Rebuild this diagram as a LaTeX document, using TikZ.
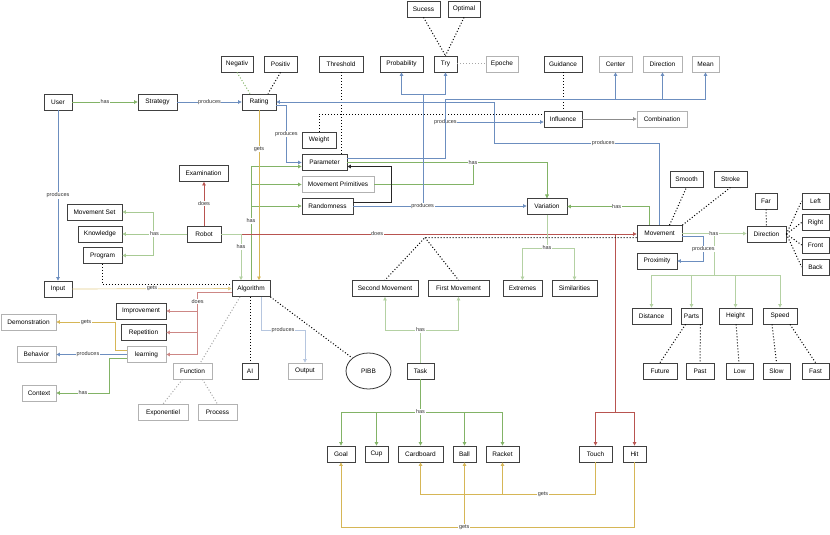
\documentclass[tikz,border=0pt]{standalone}
\usepackage{fontspec}
\setsansfont{Liberation Sans}
\usetikzlibrary{arrows.meta,shapes.geometric}
\definecolor{gcol}{HTML}{82B366}
\definecolor{bcol}{HTML}{6C8EBF}
\definecolor{rcol}{HTML}{B85450}
\definecolor{ycol}{HTML}{D6B656}

\begin{document}
\begin{tikzpicture}[x=1pt, y=-1pt,
    box/.style={draw=black!75, line width=.8pt, fill=white, minimum height=16pt, inner sep=1pt, font=\fontsize{6.5}{7}\sffamily},
    pale/.style={box, draw=black!30},
    lbl/.style={font=\fontsize{5.5}{6}\sffamily, fill=white, text=black!80, inner sep=.6pt},
    ar/.style={line width=.7pt, -{Triangle[length=3.5pt,width=3.5pt]}},
    dots/.style={line width=1pt, dash pattern=on 1pt off 2pt}]
\useasboundingbox (0,0) rectangle (830,535);
% boxes
\foreach \n/\x/\y/\w/\t in {
    sucess/423.5/9/33/Sucess, optimal/464/9/32/Optimal,
    negativ/237/64/32/Negativ, positiv/280.5/64/33/Positiv, threshold/341/64/44/Threshold,
    probability/401.5/64/43/Probability, try/445.5/64/23/Try, guidance/563/64/38/Guidance,
    user/58/102/28/User, strategy/157.5/102/39/Strategy, rating/259/102/34/Rating,
    influence/563/119/38/Influence, weight/319/140/34/Weight, parameter/324.5/162.5/45/Parameter,
    randomness/327.5/206/51/Randomness, examination/203.5/173.5/49/Examination,
    variation/547/206.5/40/Variation, smooth/686.5/179/33/Smooth, stroke/730.5/179/33/Stroke,
    far/766/201/22/Far, dleft/815.5/201/27/Left, dright/815.5/222.5/27/Right,
    dfront/815.5/245/27/Front, dback/815.5/267/27/Back,
    movset/94.5/212/55/Movement Set, knowledge/100/234/44/Knowledge, robot/204/234/34/Robot,
    movement/659.5/233.5/45/Movement, direction/766.5/234/39/Direction,
    program/102.5/255.5/39/Program, proximity/657/261/40/Proximity,
    input/58/289/28/Input, algorithm/251/288.5/38/Algorithm,
    secmov/385/288.5/66/Second Movement, firstmov/458.5/288.5/61/First Movement,
    extremes/522.5/288.5/39/Extremes, similarities/574.5/288.5/45/Similarities,
    improvement/141/311/50/Improvement, repetition/143.5/332.5/45/Repetition,
    distance/651.5/316/39/Distance, parts/691.5/316/21/Parts, height/735.5/316/33/Height, speed/780/316/34/Speed,
    ai/250/371/16/AI, task/420.5/371/27/Task,
    future/660/371/34/Future, past/700/371/28/Past, low/739.5/371/27/Low, slow/776.5/371/27/Slow, fast/815.5/371/27/Fast,
    goal/341/454/28/Goal, cup/376.5/454/23/Cup, cardboard/420.5/454/45/Cardboard, ball/464.5/454/23/Ball,
    racket/502.5/454/33/Racket, touch/595.5/454/33/Touch, hit/634.5/454/23/Hit}
    \node[box, minimum width=\w pt] (\n) at (\x,\y) {\t};
\foreach \n/\x/\y/\w/\t in {
    epoche/502/64/32/Epoche, center/615.5/64/33/Center, dirtop/662.5/64/39/Direction, mean/705.5/64/27/Mean,
    combination/662/119/50/Combination, movprim/338/184.5/72/Movement Primitives,
    demonstration/28.5/322/55/Demonstration, behavior/36.5/354.5/39/Behavior, learning/146.5/354.5/39/learning,
    context/39/393/34/Context, function/192.5/371/39/Function, exponentiel/163/412.5/50/Exponentiel,
    process/217.5/412.5/39/Process, output/305/371/34/Output}
    \node[pale, minimum width=\w pt] (\n) at (\x,\y) {\t};
\node[draw=black!80, line width=.8pt, ellipse, minimum width=45pt, minimum height=36pt, inner sep=0pt, font=\fontsize{6.5}{7}\sffamily] (pibb) at (368.5,371) {PIBB};

% top row
\draw[ar,gcol] (user) -- node[lbl]{has} (strategy);
\draw[ar,bcol] (strategy) -- node[lbl]{produces} (rating);
\draw[ar,bcol] (user) -- node[lbl]{produces} (input);
\draw[dots,gcol] (negativ.south) -- ([xshift=-9pt]rating.north);
\draw[dots] (positiv.south) -- ([xshift=9pt]rating.north);
\foreach \n in {sucess,optimal}
    \draw[dots] (\n.south) -- (try.north);
\draw[dots,black!35] (try) -- (epoche);
\draw[dots] (threshold) -- (threshold |- parameter.north);
\draw[dots] (guidance) -- (influence);
\draw[dots] (weight.north) |- ([yshift=5pt]influence.west);

% rating, parameter, influence
\draw[ar,bcol] ([yshift=-3pt]rating.east) -- ++(10,0) |- node[lbl,pos=.25]{produces} (parameter.west);
\draw[ar,bcol] (movement.north) |- node[lbl,pos=.67]{produces} (494,143) -- (494,102) -- (rating.east);
\draw[ar,bcol] ([yshift=4pt]parameter.east) -- ++(98,0) |- node[lbl]{produces} ([yshift=-3pt]influence.west);
\coordinate (pc) at (445,99);
\draw[bcol,line width=.7pt] ([yshift=4pt]parameter.east) -| (pc);
\foreach \n in {center,dirtop,mean}
    \draw[ar,bcol] (pc) -| (\n.south);
\draw[ar,black!45] (influence) -- (combination);
\coordinate (pv) at (473,162.5);
\draw[ar,gcol] (parameter.east) -- (pv) -| (variation.north);
\draw[ar,gcol] (movprim.east) -| (pv) -| (variation.north);
\node[lbl] at (pv) {has};

% randomness
\coordinate (rp) at (423,94);
\foreach \n in {probability,try}
    \draw[ar,bcol] (randomness.east) -| (rp) -| (\n.south);
\draw[ar,bcol] (randomness.east) -- node[lbl,pos=.4]{produces} (randomness.east -| variation.west);
\draw[ar,black!85] ([yshift=4pt]randomness.east) -- ++(38,0) |- ([yshift=-4pt]parameter.east);

% algorithm
\draw[ar,gcol] (algorithm.north) |- (movprim.west);
\draw[ar,gcol] (algorithm.north) |- (randomness.west);
\draw[ar,gcol] (algorithm.north) |- node[lbl,pos=.26]{has} ([yshift=-4pt]parameter.west);
\draw[ar,ycol] (rating.south) -- node[lbl,pos=.23]{gets} (rating.south |- algorithm.north);
\draw[ar,bcol!50] ([xshift=10pt]algorithm.south) -- ++(0,33.5) -| node[lbl,pos=.25]{produces} (output.north);
\draw[dots] (ai.north |- algorithm.south) -- (ai.north);
\draw[dots] (algorithm.south east) -- (pibb.north west);
\draw[dots,black!35] ([xshift=-11pt]algorithm.south) -- ([xshift=8pt]function.north);
\draw[dots,black!35] ([xshift=-10pt]function.south) -- (exponentiel.north);
\draw[dots,black!35] ([xshift=10pt]function.south) -- (process.north);
\foreach \n in {repetition,learning}
    \draw[ar,rcol!70] ([yshift=-3.5pt]algorithm.west) -- ++(-34,0) |- (\n.east);
\draw[ar,rcol!70] ([yshift=-3.5pt]algorithm.west) -- ++(-34,0) |- node[lbl,pos=.25]{does} (improvement.east);
\draw[ar,ycol!70] (input) -- node[lbl]{gets} (algorithm);
\draw[dots] (program.south) |- ([yshift=4pt]algorithm.west);

% learning
\draw[ar,ycol] ([yshift=4pt]learning.west) -- ++(-11,0) |- node[lbl,pos=.75]{gets} (demonstration.east);
\draw[ar,bcol] (learning.west) -- node[lbl,pos=.55]{produces} (behavior.east);
\draw[ar,gcol] ([yshift=-4pt]learning.west) -- ++(-17,0) |- node[lbl,pos=.75]{has} (context.east);

% robot
\draw[ar,rcol] (robot.north) -- node[lbl]{does} (robot.north |- examination.south);
\foreach \n in {movset,program}
    \draw[ar,gcol!70] (robot.west) -- ++(-33,0) |- (\n.east);
\draw[ar,gcol!70] (robot.west) -- node[lbl]{has} (robot.west -| knowledge.east);
\coordinate (th) at (615,412);
\foreach \n in {touch,hit}
    \draw[ar,rcol] (robot.east) -| (th) -| (\n.north);
\draw[ar,rcol] (robot.east) -- node[lbl,pos=.375]{does} (robot.east -| movement.west);
\draw[ar,gcol!60] (robot.east) -| node[lbl,pos=.64]{has} ([xshift=-10pt]algorithm.north);

% movement
\draw[ar,gcol] ([xshift=-10pt]movement.north) |- node[lbl,pos=.7]{has} (variation.east);
\coordinate (vx) at (547,248);
\foreach \n in {extremes,similarities}
    \draw[ar,gcol!60] (variation.south) -- (vx) -| (\n.north);
\node[lbl] at (vx) {has};
\coordinate (mh) at (714,275);
\foreach \n in {distance,parts,height,speed}
    \draw[ar,gcol!60] (movement.east) -| (mh) -| (\n.north);
\draw[ar,gcol!60] (movement.east) -- node[lbl,pos=.49]{has} (movement.east -| direction.west);
\draw[ar,bcol] ([yshift=-3pt]movement.east) -- ++(21,0) |- node[lbl,pos=.25]{produces} (proximity.east);
\draw[dots] ([xshift=10pt]movement.north) -- (smooth.south);
\draw[dots] (movement.north east) -- (stroke.south);
\draw[dots] (far) -- (direction);
\foreach \n in {dleft,dright,dfront,dback}
    \draw[dots] (direction.east) -- (\n.west);
\draw[dots] ([xshift=-6pt]parts.south) -- (future.north);
\draw[dots] ([xshift=9pt]parts.south) -- (past.north);
\draw[dots] (height) -- (low);
\draw[dots] ([xshift=-8pt]speed.south) -- (slow.north);
\draw[dots] ([xshift=10pt]speed.south) -- (fast.north);
\coordinate (md) at (425,237.5);
\draw[dots] ([yshift=-4pt]movement.west) -- (md) -- (secmov.north);
\draw[dots] (md) -- (firstmov.north);

% task
\coordinate (tm) at (420.5,330);
\foreach \n in {secmov,firstmov}
    \draw[ar,gcol!60] (task.north) -- (tm) -| (\n.south);
\node[lbl] at (tm) {has};
\coordinate (tg) at (420.5,412);
\foreach \n in {goal,cup,cardboard,ball,racket}
    \draw[ar,gcol] (task.south) -- (tg) -| (\n.north);
\node[lbl] at (tg) {has};
\coordinate (tc) at (595.5,494);
\draw[ar,ycol] (touch.south) -- (tc) -| (racket.south);
\draw[ar,ycol] (touch.south) -- (tc) -| node[lbl,pos=.15]{gets} (cardboard.south);
\coordinate (hg) at (634.5,527);
\draw[ar,ycol] (hit.south) -- (hg) -| (ball.south);
\draw[ar,ycol] (hit.south) -- (hg) -| node[lbl,pos=.29]{gets} (goal.south);
\end{tikzpicture}
\end{document}
